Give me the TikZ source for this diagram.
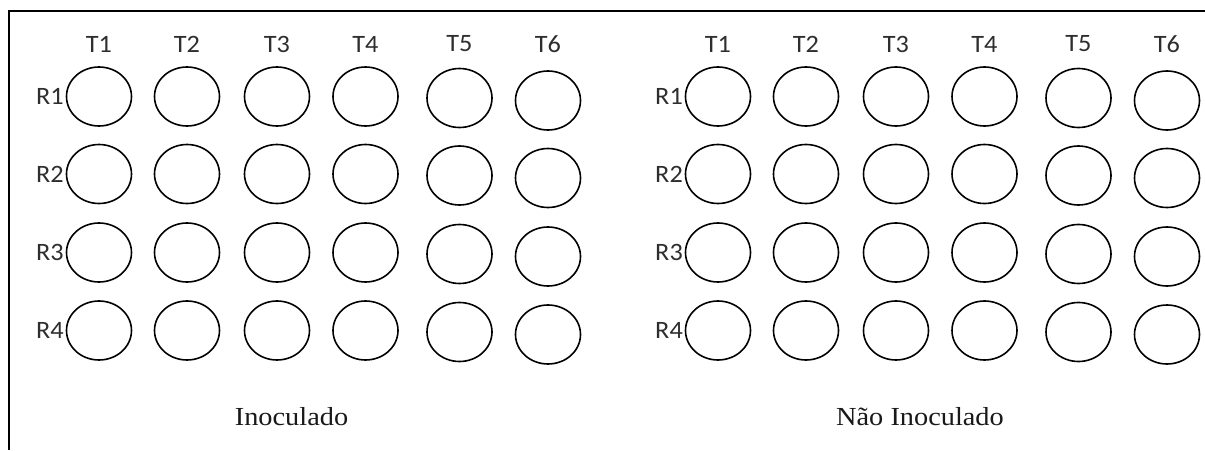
\documentclass[tikz,border=0pt]{standalone}
\usepackage{graphicx}
\usepackage{fontspec}
\setmainfont{Liberation Serif}
\newfontfamily\calib{Carlito}
\usetikzlibrary{shapes.geometric}
\newcommand\hxa[1]{\scalebox{1.05}[1]{#1}}
\newcommand\hxb[1]{\scalebox{1.09}[1]{#1}}
\begin{document}
\begin{tikzpicture}[x=1pt,y=-1pt,
  well/.style={ellipse,draw,line width=1.6pt,minimum width=65pt,minimum height=59pt,inner sep=0pt},
  lab/.style={font=\calib\fontsize{25}{30}\selectfont,text=black!82,inner sep=0pt},
  paneltitle/.style={font=\fontsize{26}{30}\selectfont,text=black!90,inner sep=0pt}]
\useasboundingbox (0,0) rectangle (1205,450);
\fill[white] (0,0) rectangle (1205,450);
\draw[line width=2.5pt] (1205,11) -- (9,11) -- (9,450);
\foreach \p/\ox in {L/0,N/619}{
  \foreach \c/\x/\dy in {1/99/0,2/187/0,3/277/0,4/365.5/0,5/459.5/1.5,6/548/4}{
    \node[lab] (\p T\c) at (\x+\ox,44) {\hxa{T\c}};
    \foreach \r/\y in {1/96.5,2/174,3/252.5,4/330.5}{
      \node[well] (\p W\r\c) at (\x+\ox,\y+\dy) {};
    }
  }
  \foreach \r/\y in {1/96.5,2/174,3/252.5,4/330.5}{
    \node[lab,anchor=east] (\p R\r) at (\ox+64,\y) {\hxa{R\r}};
  }
}
\node[paneltitle] (tL) at (291.5,417) {\hxb{Inoculado}};
\node[paneltitle] (tN) at (920,417) {\hxb{Não Inoculado}};
\end{tikzpicture}
\end{document}
